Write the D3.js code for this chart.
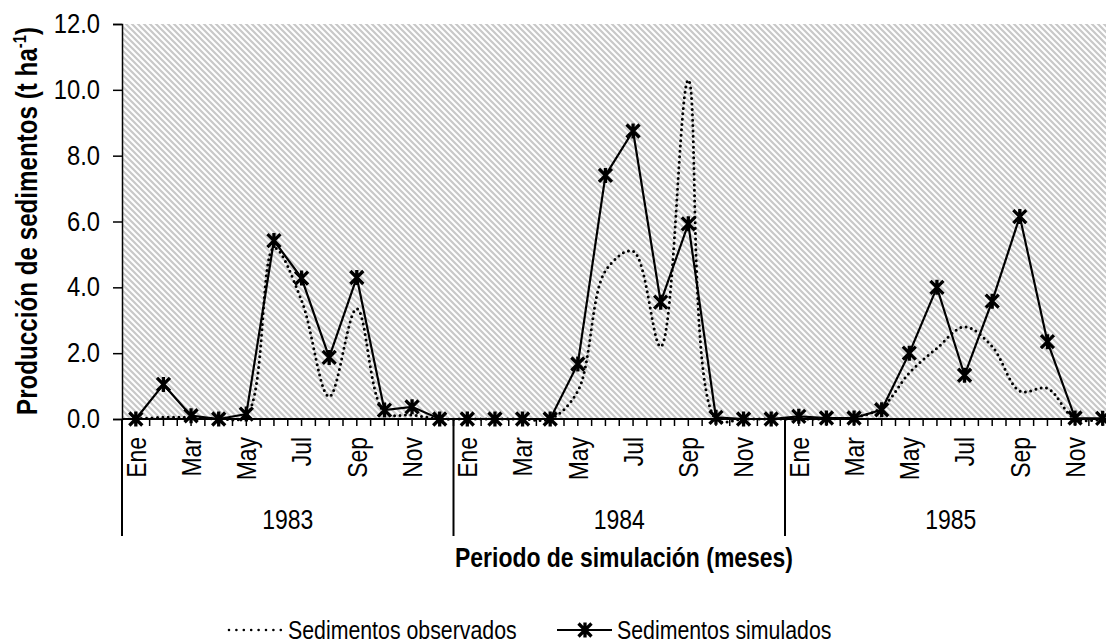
<!DOCTYPE html>
<html>
<head>
<meta charset="utf-8">
<script src="https://cdn.jsdelivr.net/npm/d3@7/dist/d3.min.js"></script>
<style>
  html, body { margin: 0; padding: 0; background: #fff; }
  svg { display: block; }
  text { font-family: "Liberation Sans Narrow", "Arial Narrow", "Liberation Sans", Arial, sans-serif; fill: #000; }
</style>
</head>
<body>
<svg id="chart" width="1106" height="644"></svg>
<script>
// Monthly sediment yield, 1983–1985
const years = ["1983", "1984", "1985"];
const months = ["Ene", "Feb", "Mar", "Abr", "May", "Jun", "Jul", "Ago", "Sep", "Oct", "Nov", "Dic"];
const monthLabels = ["Ene", "Mar", "May", "Jul", "Sep", "Nov"];
const yTicks = [0, 2, 4, 6, 8, 10, 12];

const observados = [
  0.0, 0.05, 0.05, 0.0, 0.1, 5.2, 3.6, 0.68, 3.35, 0.2, 0.12, 0.0,
  0.0, 0.0, 0.0, 0.0, 0.85, 4.5, 5.1, 2.2, 10.3, 0.0, 0.0, 0.0,
  0.0, 0.0, 0.05, 0.35, 1.4, 2.15, 2.8, 2.2, 0.85, 0.93, 0.0, 0.0
];
const simulados = [
  0.0, 1.05, 0.1, 0.0, 0.15, 5.42, 4.28, 1.87, 4.3, 0.27, 0.37, 0.0,
  0.0, 0.0, 0.0, 0.0, 1.67, 7.4, 8.75, 3.55, 5.93, 0.05, 0.0, 0.0,
  0.08, 0.03, 0.03, 0.28, 2.0, 4.0, 1.33, 3.58, 6.15, 2.35, 0.03, 0.02
];

// Narrow lettering: horizontal condensing of the sans face
const NARROW = 0.82;

const svg = d3.select("#chart");

// Category axis: one band per month, three years
const cats = d3.range(years.length * months.length);
const x = d3.scaleBand().domain(cats).range([122, 1116.5]).padding(0);
const y = d3.scaleLinear().domain([0, 12]).range([419, 24]);
const cx = i => x(i) + x.bandwidth() / 2;

// Diagonal hatch fill for the plot area
const defs = svg.append("defs");
const pat = defs.append("pattern")
  .attr("id", "hatch")
  .attr("patternUnits", "userSpaceOnUse")
  .attr("width", 6).attr("height", 6);
pat.append("rect").attr("width", 6).attr("height", 6).attr("fill", "#fff");
pat.append("path")
  .attr("d", "M-1,-1 L7,7 M-1,5 L1,7 M5,-1 L7,1")
  .attr("stroke", "#c8c8c8").attr("stroke-width", 2.2);

svg.append("rect")
  .attr("x", x.range()[0]).attr("y", y(12))
  .attr("width", x.range()[1] - x.range()[0])
  .attr("height", y(0) - y(12))
  .attr("fill", "url(#hatch)");

// Y axis
const TICK_SX = 0.88;
const yAxis = d3.axisLeft(y).tickValues(yTicks).tickFormat(d3.format(".1f")).tickSize(9).tickPadding(13);
const gy = svg.append("g").attr("transform", `translate(${x.range()[0]},0)`).call(yAxis);
gy.select(".domain").attr("stroke", "#000").attr("stroke-width", 1.5);
gy.selectAll(".tick line").attr("stroke", "#000").attr("stroke-width", 1.5);
gy.selectAll(".tick text")
  .attr("font-size", 27).attr("font-family", null)
  .attr("x", -22 / TICK_SX)
  .attr("transform", `scale(${TICK_SX},1)`);

// X axis: ticks at every half month, labels every other month
const gx = svg.append("g").attr("transform", `translate(0,${y(0)})`);
gx.append("line")
  .attr("x1", x.range()[0]).attr("x2", x.range()[1])
  .attr("stroke", "#000").attr("stroke-width", 2);
const half = d3.range(0, cats.length * 2 + 1).map(k => x.range()[0] + k * x.bandwidth() / 2);
gx.selectAll("line.tk").data(half).join("line")
  .attr("class", "tk")
  .attr("x1", d => d).attr("x2", d => d)
  .attr("y1", 0).attr("y2", 7)
  .attr("stroke", "#000").attr("stroke-width", 1.5);

gx.selectAll("text.month")
  .data(cats.filter(i => monthLabels.includes(months[i % 12])))
  .join("text")
  .attr("class", "month")
  .attr("transform", d => `translate(${cx(d)},18) rotate(-90) scale(${NARROW},1)`)
  .attr("text-anchor", "end")
  .attr("dy", "0.35em")
  .attr("font-size", 28)
  .text(d => months[d % 12]);

// Year group separators and labels
const yearEdges = d3.range(years.length + 1).map(k => x(k * 12) ?? x.range()[1]);
gx.selectAll("line.sep").data(yearEdges).join("line")
  .attr("class", "sep")
  .attr("x1", d => d).attr("x2", d => d)
  .attr("y1", 0).attr("y2", 117)
  .attr("stroke", "#000").attr("stroke-width", 2);
gx.selectAll("text.year").data(years).join("text")
  .attr("class", "year")
  .attr("transform", (d, k) => `translate(${(yearEdges[k] + yearEdges[k + 1]) / 2},110) scale(${NARROW},1)`)
  .attr("text-anchor", "middle")
  .attr("font-size", 28)
  .text(d => d);

// Axis titles
svg.append("text")
  .attr("transform", `translate(624,567) scale(${NARROW},1)`)
  .attr("text-anchor", "middle")
  .attr("font-size", 28).attr("font-weight", "bold")
  .text("Periodo de simulación (meses)");

const yt = svg.append("text")
  .attr("transform", `translate(37,221) rotate(-90) scale(${NARROW},1)`)
  .attr("text-anchor", "middle")
  .attr("font-size", 29.5).attr("font-weight", "bold");
yt.append("tspan").text("Producción de sedimentos (t ha");
yt.append("tspan").attr("font-size", 18).attr("dy", -11).text("-1");
yt.append("tspan").attr("dy", 11).text(")");

// Observed: smoothed dotted line
const obsLine = d3.line().x((d, i) => cx(i)).y(d => y(d)).curve(d3.curveCatmullRom.alpha(0.5));
svg.append("path")
  .datum(observados)
  .attr("d", obsLine)
  .attr("fill", "none").attr("stroke", "#000")
  .attr("stroke-width", 3)
  .attr("stroke-linecap", "round")
  .attr("stroke-dasharray", "0 5.4");

// Simulated: straight segments with star markers
const simLine = d3.line().x((d, i) => cx(i)).y(d => y(d));
svg.append("path")
  .datum(simulados)
  .attr("d", simLine)
  .attr("fill", "none").attr("stroke", "#000").attr("stroke-width", 2.2);

const star = "M-6.5,-6.5 L6.5,6.5 M-6.5,6.5 L6.5,-6.5 M0,-7.5 L0,7.5";
svg.selectAll("path.mk").data(simulados).join("path")
  .attr("class", "mk")
  .attr("transform", (d, i) => `translate(${cx(i)},${y(d)})`)
  .attr("d", star)
  .attr("fill", "none").attr("stroke", "#000").attr("stroke-width", 3.3);

// Legend
const lg = svg.append("g");
lg.append("line")
  .attr("x1", 229).attr("x2", 281).attr("y1", 630).attr("y2", 630)
  .attr("stroke", "#000").attr("stroke-width", 2.6)
  .attr("stroke-linecap", "round").attr("stroke-dasharray", "0 7.4");
lg.append("text")
  .attr("transform", `translate(288,639) scale(${NARROW},1)`)
  .attr("font-size", 26).text("Sedimentos observados");
lg.append("line")
  .attr("x1", 557).attr("x2", 612).attr("y1", 630).attr("y2", 630)
  .attr("stroke", "#000").attr("stroke-width", 2.2);
lg.append("path").attr("transform", "translate(585,630)").attr("d", star)
  .attr("fill", "none").attr("stroke", "#000").attr("stroke-width", 3.3);
lg.append("text")
  .attr("transform", `translate(617,639) scale(${NARROW},1)`)
  .attr("font-size", 26).text("Sedimentos simulados");
</script>
</body>
</html>
